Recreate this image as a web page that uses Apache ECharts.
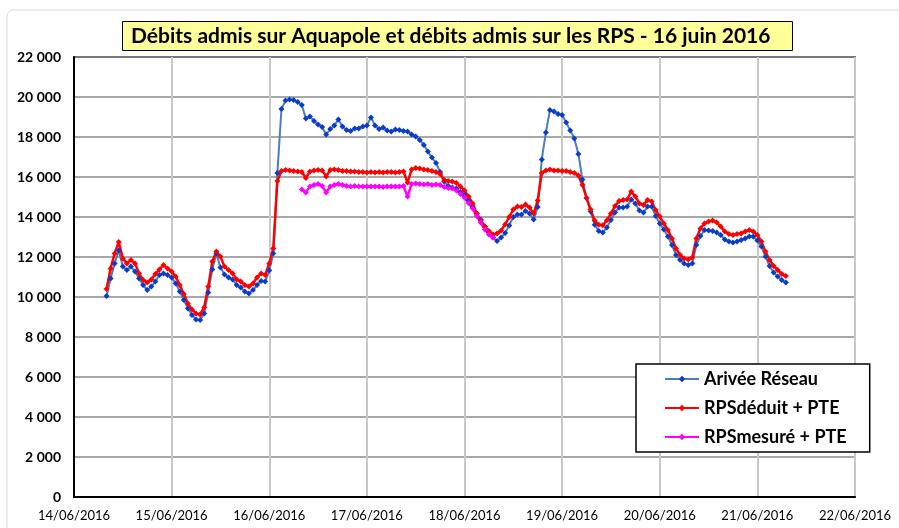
<!DOCTYPE html>
<html>
<head>
<meta charset="utf-8">
<script src="https://cdn.jsdelivr.net/npm/echarts@6/dist/echarts.min.js"></script>
<style>
  html, body { margin: 0; padding: 0; background: #fff; }
  #main { width: 899px; height: 528px; }
</style>
</head>
<body>
<div id="main"></div>
<script>
// hourly readings, first one on 14/06/2016 at 08:00
const startHour = 8;
const dayLabels = ['14/06/2016', '15/06/2016', '16/06/2016', '17/06/2016', '18/06/2016',
  '19/06/2016', '20/06/2016', '21/06/2016', '22/06/2016'];

const arriveeReseau = [
  10050, 10930, 11680, 12320, 11520, 11350, 11520, 11270, 10930, 10600, 10350, 10520, 10770, 11100, 11180, 11100,
  10980, 10680, 10270, 9850, 9430, 9100, 8880, 8850, 9170, 10220, 11380, 12180, 11470, 11130, 10980, 10880,
  10600, 10480, 10270, 10180, 10350, 10600, 10800, 10770, 11320, 12180, 16200, 19400, 19820, 19870, 19850, 19750,
  19600, 18930, 19020, 18800, 18630, 18500, 18130, 18400, 18570, 18880, 18520, 18350, 18300, 18430, 18430, 18520,
  18570, 18980, 18570, 18400, 18470, 18320, 18270, 18380, 18350, 18300, 18270, 18130, 18020, 17850, 17600, 17270,
  16970, 16700, 16250, 15770, 15550, 15480, 15420, 15250, 15130, 14830, 14500, 14170, 13870, 13530, 13250, 12970,
  12800, 12970, 13200, 13580, 14000, 14120, 14130, 14300, 14170, 13870, 14500, 16880, 18230, 19350, 19270, 19150,
  19100, 18720, 18330, 17920, 17150, 15870, 14950, 14280, 13610, 13300, 13220, 13480, 13850, 14230, 14470, 14480,
  14520, 14880, 14680, 14320, 14220, 14520, 14520, 14050, 13680, 13380, 13020, 12600, 12100, 11850, 11680, 11600,
  11680, 12600, 13050, 13350, 13320, 13300, 13220, 13100, 12880, 12770, 12730, 12770, 12850, 12930, 13020, 13020,
  12820, 12520, 12020, 11550, 11220, 11020, 10850, 10720
];

const rpsDeduit = [
  10400, 11430, 12180, 12750, 11930, 11680, 11850, 11680, 11180, 10850, 10720, 10880, 11150, 11380, 11600, 11430,
  11270, 11020, 10600, 10150, 9680, 9380, 9180, 9130, 9480, 10520, 11770, 12270, 12020, 11520, 11350, 11180,
  10880, 10770, 10600, 10520, 10680, 10980, 11180, 11100, 11680, 12430, 15800, 16300, 16350, 16330, 16300, 16280,
  16250, 15950, 16270, 16320, 16350, 16330, 16030, 16350, 16380, 16350, 16300, 16300, 16280, 16280, 16250, 16250,
  16230, 16250, 16230, 16250, 16230, 16250, 16250, 16230, 16250, 16280, 15720, 16380, 16450, 16420, 16380, 16350,
  16300, 16250, 16150, 15850, 15800, 15780, 15700, 15520, 15330, 15020, 14680, 14180, 13820, 13530, 13300, 13130,
  13170, 13330, 13630, 14000, 14370, 14530, 14500, 14630, 14470, 14170, 14830, 16200, 16330, 16370, 16330, 16330,
  16300, 16300, 16250, 16200, 16080, 15600, 14950, 14370, 13830, 13610, 13590, 13840, 14170, 14550, 14800, 14850,
  14880, 15270, 15020, 14680, 14600, 14850, 14770, 14350, 14020, 13680, 13350, 12930, 12430, 12100, 11930, 11880,
  11980, 12930, 13430, 13680, 13770, 13820, 13730, 13520, 13270, 13150, 13100, 13150, 13180, 13270, 13350, 13270,
  13100, 12770, 12270, 11850, 11550, 11350, 11150, 11050
];

// measured values only exist from 16/06 08:00 (reading 48) to 18/06 07:00
const rpsMesureStart = 48;
const rpsMesure = [
  15380, 15230, 15520, 15600, 15650, 15550, 15230, 15520, 15600, 15650, 15600, 15550, 15530, 15550, 15520, 15530,
  15520, 15530, 15520, 15530, 15500, 15520, 15530, 15520, 15530, 15550, 15030, 15650, 15680, 15650, 15620, 15650,
  15600, 15620, 15600, 15500, 15450, 15420, 15330, 15150, 14980, 14700, 14420, 14050, 13720, 13380, 13130, 12970
];

function toPoints(vals, offset) {
  return vals.map((v, i) => [startHour + offset + i, v]);
}

const font = 'Lato, "DejaVu Sans", sans-serif';

function lineSeries(name, data, lineColor, dotColor, width) {
  return {
    name: name,
    type: 'line',
    data: data,
    symbol: 'diamond',
    symbolSize: 6,
    showAllSymbol: true,
    lineStyle: { color: lineColor, width: width },
    itemStyle: { color: dotColor },
    emphasis: { disabled: true }
  };
}

const chart = echarts.init(document.getElementById('main'));
chart.setOption({
  animation: false,
  backgroundColor: '#fff',
  textStyle: { fontFamily: font },
  title: {
    text: 'Débits admis sur Aquapole et débits admis sur les RPS - 16 juin 2016',
    left: 122,
    top: 21,
    padding: [5, 22, 4, 9],
    backgroundColor: '#ffff99',
    borderColor: '#000',
    borderWidth: 1,
    textStyle: { fontFamily: font, fontSize: 21, fontWeight: 'bold', color: '#000' }
  },
  graphic: [{
    type: 'rect',
    shape: { x: 7, y: 10, width: 1000, height: 600, r: 6 },
    style: { fill: 'none', stroke: '#d9d9d9', lineWidth: 1 },
    silent: true
  }],
  legend: {
    orient: 'vertical',
    left: 636,
    top: 364,
    padding: [6, 23, 6, 28],
    itemGap: 11,
    itemWidth: 34,
    itemHeight: 8,
    backgroundColor: '#fff',
    borderColor: '#000',
    borderWidth: 1.5,
    textStyle: { fontFamily: font, fontSize: 18, fontWeight: 'bold', color: '#000' },
    data: ['Arivée Réseau', 'RPSdéduit + PTE', 'RPSmesuré + PTE']
  },
  grid: {
    left: 74, right: 44, top: 57, bottom: 31,
    show: true, borderColor: '#000', borderWidth: 1.5
  },
  xAxis: {
    type: 'value',
    min: 0,
    max: 192,
    interval: 24,
    axisLine: { lineStyle: { color: '#000', width: 2 } },
    axisTick: { show: false },
    splitLine: { show: true, lineStyle: { color: '#c8c8c8', width: 2 } },
    axisLabel: {
      margin: 12,
      fontFamily: font, fontSize: 13, color: '#000',
      formatter: v => dayLabels[Math.round(v / 24)]
    }
  },
  yAxis: {
    type: 'value',
    min: 0,
    max: 22000,
    interval: 2000,
    axisLine: { show: true, lineStyle: { color: '#000', width: 2 } },
    axisTick: { show: false },
    splitLine: { lineStyle: { color: '#8c8c8c', width: 1.5 } },
    axisLabel: {
      margin: 13,
      fontFamily: font, fontSize: 14, fontWeight: 'bold', color: '#000',
      formatter: v => String(v).replace(/\B(?=(\d{3})+(?!\d))/g, ' ')
    }
  },
  series: [
    lineSeries('Arivée Réseau', toPoints(arriveeReseau, 0), '#4a7ebb', '#0a3ccc', 2),
    lineSeries('RPSdéduit + PTE', toPoints(rpsDeduit, 0), '#ff0000', '#ff0000', 2.5),
    lineSeries('RPSmesuré + PTE', toPoints(rpsMesure, rpsMesureStart), '#ff00ff', '#ff00ff', 2.5)
  ]
});
</script>
</body>
</html>
